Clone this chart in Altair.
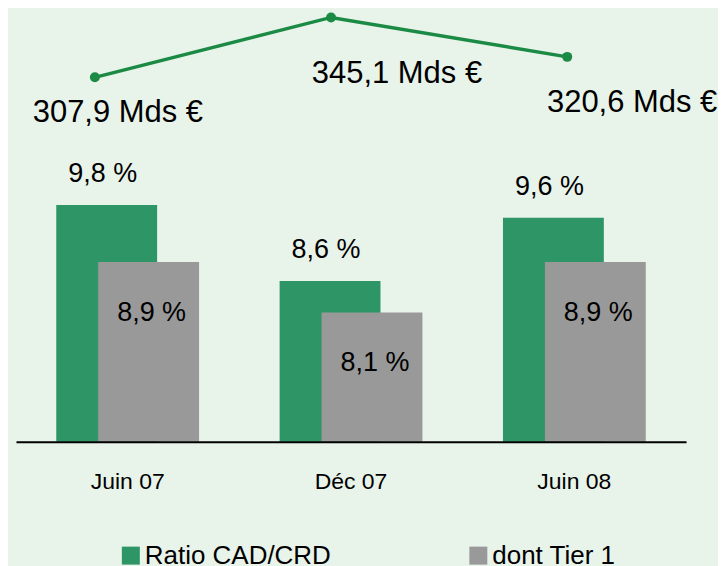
import altair as alt
import pandas as pd

# ---- data ----
CATEGORIES = ["Juin 07", "Déc 07", "Juin 08"]
SERIES = ["Ratio CAD/CRD", "dont Tier 1"]
RATIO_CAD_CRD = [9.8, 8.6, 9.6]
TIER_1 = [8.9, 8.1, 8.9]
ENCOURS_MDS = [307.9, 345.1, 320.6]

# ---- styles ----
GREEN = "#2e9566"
GRAY = "#999999"
LINE_GREEN = "#1b8a44"
BG = "#e8f3ea"
NARROW = "Liberation Sans Narrow, Arial Narrow, Liberation Sans, Arial, sans-serif"
REGULAR = "Liberation Sans, Arial, sans-serif"
W, H = 671, 434
Y_MIN, Y_MAX = 6.056, 12.912
LINE_LABEL_OFFSETS = [(23, 45), (66, 66), (65, 55)]  # (dx, dy) of each amount label

bars_df = pd.DataFrame({
    "periode": CATEGORIES * 2,
    "serie": [SERIES[0]] * len(CATEGORIES) + [SERIES[1]] * len(CATEGORIES),
    "ratio": RATIO_CAD_CRD + TIER_1,
})
line_df = pd.DataFrame({"periode": CATEGORIES, "encours": ENCOURS_MDS})

band_scale = alt.Scale(type="band", paddingInner=0, paddingOuter=0)
x_axis = alt.Axis(title=None, labelAngle=0, ticks=False, tickSize=0, grid=False,
                  domainColor="black", domainWidth=2, labelFont=NARROW,
                  labelFontSize=23, labelColor="black", labelPadding=47,
                  labelBaseline="alphabetic", zindex=1)
x_bar = alt.X("periode:N", sort=CATEGORIES, scale=band_scale, axis=x_axis)
y_bar = alt.Y("ratio:Q", scale=alt.Scale(domain=[Y_MIN, Y_MAX], zero=False, nice=False), axis=None)
y2_bar = alt.Y2Datum(Y_MIN)
color = alt.Color("serie:N", scale=alt.Scale(domain=SERIES, range=[GREEN, GRAY]),
                  legend=alt.Legend(title=None, orient="none", legendX=102, legendY=535,
                                    direction="horizontal", symbolType="square",
                                    symbolSize=324, symbolStrokeWidth=0, symbolOpacity=1,
                                    labelFont=NARROW, labelFontSize=26, labelColor="black",
                                    columnPadding=134, labelOffset=1, padding=0, labelLimit=0))

base = alt.Chart(bars_df)
pct = "replace(format(datum.ratio, '.1f'), '.', ',') + ' %'"

green_bars = base.transform_filter(alt.datum.serie == SERIES[0]).mark_bar(size=101, xOffset=-21).encode(
    x=x_bar, y=y_bar, y2=y2_bar, color=color)
gray_bars = base.transform_filter(alt.datum.serie == SERIES[1]).mark_bar(size=101, xOffset=21).encode(
    x=x_bar, y=y_bar, y2=y2_bar, color=color)
green_labels = base.transform_filter(alt.datum.serie == SERIES[0]).transform_calculate(label=pct).mark_text(
    font=NARROW, fontSize=27, align="center", baseline="alphabetic", dx=-25, dy=-23, color="black").encode(
    x=x_bar, y=y_bar, text="label:N")
gray_labels = base.transform_filter(alt.datum.serie == SERIES[1]).transform_calculate(label=pct).mark_text(
    font=NARROW, fontSize=27, align="center", baseline="alphabetic", dx=24, dy=59, color="black").encode(
    x=x_bar, y=y_bar, text="label:N")

bars = alt.layer(green_bars, gray_bars, green_labels, gray_labels)

line_base = alt.Chart(line_df).encode(
    x=alt.X("periode:N", sort=CATEGORIES, scale=alt.Scale(type="point", padding=0.4186, align=0.399), axis=None),
    y=alt.Y("encours:Q", scale=alt.Scale(domain=[81.6, 350.7], zero=False, nice=False), axis=None),
)
line = line_base.mark_line(color=LINE_GREEN, strokeWidth=3.5)
points = line_base.mark_point(filled=True, size=100, color=LINE_GREEN, opacity=1)
amt = "replace(format(datum.encours, '.1f'), '.', ',') + ' Mds €'"
amount_labels = [
    line_base.transform_filter(alt.datum.periode == cat).transform_calculate(label=amt).mark_text(
        font=REGULAR, fontSize=31, align="center", baseline="alphabetic", dx=dx, dy=dy, color="black"
    ).encode(text="label:N")
    for cat, (dx, dy) in zip(CATEGORIES, LINE_LABEL_OFFSETS)
]
lines = alt.layer(line, points, *amount_labels)

chart = alt.layer(bars, lines).resolve_scale(x="independent", y="independent").properties(
    width=W, height=H, padding={"left": 8, "top": 0, "right": 0, "bottom": 0}, background=BG
).configure_view(stroke=None)

chart.save("out.html", embed_options={"renderer": "svg", "actions": False})
